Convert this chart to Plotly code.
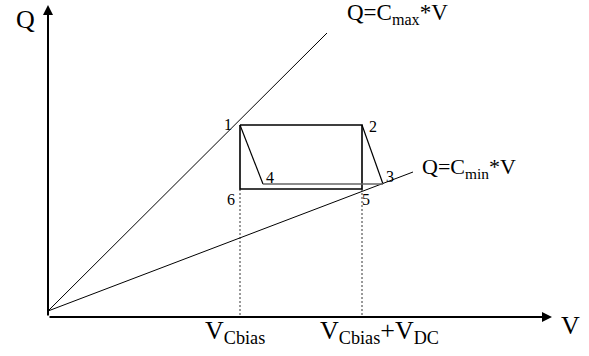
import plotly.graph_objects as go

# geometry (V, Q units, origin at the axes corner)
line_start = [0, 6]
cmax_end = [279, 284]
cmin_end = [365, 145]

cycle_labels = ['1', '2', '3', '4', '5', '6']
cycle_v = [192, 314, 335, 215, 314, 192]
cycle_q = [192, 192, 133, 133, 128, 128]

label_v = [180, 325, 342, 222, 318, 183]
label_q = [193, 191, 141, 140, 118, 118]

v_bias = 192
v_bias_dc = 314
v_axis_end = 504
q_axis_end = 312

font = 'Liberation Serif, Times New Roman, serif'
black = 'black'

fig = go.Figure()

# Q = Cmax*V and Q = Cmin*V
fig.add_trace(go.Scatter(x=[line_start[0], cmax_end[0]], y=[line_start[1], cmax_end[1]],
                         mode='lines', line=dict(color=black, width=1)))
fig.add_trace(go.Scatter(x=[line_start[0], cmin_end[0]], y=[line_start[1], cmin_end[1]],
                         mode='lines', line=dict(color=black, width=1)))

p = dict(zip(cycle_labels, zip(cycle_v, cycle_q)))

# rectangle 1-2-5-6
rect = ['1', '2', '5', '6', '1']
fig.add_trace(go.Scatter(x=[p[k][0] for k in rect], y=[p[k][1] for k in rect],
                         mode='lines', line=dict(color=black, width=1.6)))
# 2-3, 1-4
for a, b in [('2', '3'), ('1', '4')]:
    fig.add_trace(go.Scatter(x=[p[a][0], p[b][0]], y=[p[a][1], p[b][1]],
                             mode='lines', line=dict(color=black, width=1.2)))
# 4-3
fig.add_trace(go.Scatter(x=[p['4'][0], p['3'][0]], y=[p['4'][1], p['3'][1]],
                         mode='lines', line=dict(color='#666666', width=1.4)))

# dashed drops to the V axis
for v, k in [(v_bias, '6'), (v_bias_dc, '5')]:
    fig.add_trace(go.Scatter(x=[v, v], y=[p[k][1], 0], mode='lines',
                             line=dict(color=black, width=0.8, dash='2px,2px')))

annotations = []
# axes with arrowheads
annotations.append(dict(x=v_axis_end, y=0, ax=0, ay=0, xref='x', yref='y', axref='x', ayref='y',
                        showarrow=True, arrowhead=2, arrowsize=1, arrowwidth=2, arrowcolor=black, text=''))
annotations.append(dict(x=0, y=q_axis_end, ax=0, ay=0, xref='x', yref='y', axref='x', ayref='y',
                        showarrow=True, arrowhead=2, arrowsize=1, arrowwidth=2, arrowcolor=black, text=''))

for lab, x, y in zip(cycle_labels, label_v, label_q):
    annotations.append(dict(x=x, y=y, text=lab, showarrow=False, xref='x', yref='y',
                            font=dict(family=font, size=16, color=black)))

big = dict(family=font, size=26, color=black)
annotations += [
    dict(x=-23, y=298, text='Q', showarrow=False, font=big),
    dict(x=522, y=-8, text='V', showarrow=False, font=big),
    dict(x=297, y=303, text='Q=C<sub>max</sub>*V', showarrow=False, xanchor='left',
         font=dict(family=font, size=23, color=black)),
    dict(x=372, y=149, text='Q=C<sub>min</sub>*V', showarrow=False, xanchor='left',
         font=dict(family=font, size=22, color=black)),
    dict(x=187, y=-15, text='V<sub>Cbias</sub>', showarrow=False, font=big),
    dict(x=331, y=-15, text='V<sub>Cbias</sub>+V<sub>DC</sub>', showarrow=False, font=big),
]

fig.update_layout(
    width=589, height=356,
    margin=dict(l=0, r=0, t=0, b=0),
    paper_bgcolor='white', plot_bgcolor='white',
    showlegend=False,
    xaxis=dict(range=[-48, 541], visible=False, fixedrange=True),
    yaxis=dict(range=[-39, 317], visible=False, fixedrange=True),
    annotations=annotations,
)

fig.write_html('out.html', config={'displayModeBar': False},
               post_script="document.body.style.margin='0';")
